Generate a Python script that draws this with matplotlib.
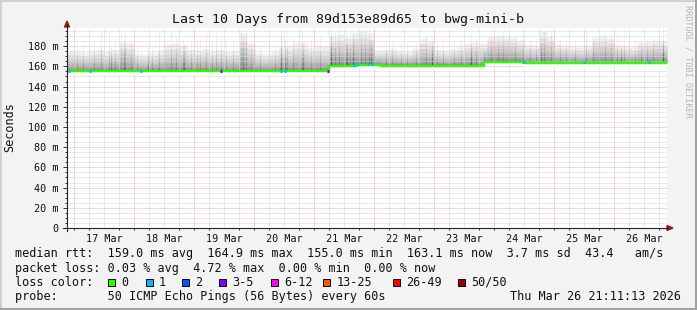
import numpy as np
import matplotlib
matplotlib.use("Agg")
import matplotlib.pyplot as plt
from matplotlib.patches import Rectangle, Polygon
from matplotlib.lines import Line2D

W, H = 697, 310
MONO = "DejaVu Sans Mono"

# time axis in days since 16 Mar 00:00
t_start = 0.8828
t_end = 10.8828
day_starts = [1, 2, 3, 4, 5, 6, 7, 8, 9, 10]
day_labels = ["17 Mar", "18 Mar", "19 Mar", "20 Mar", "21 Mar",
              "22 Mar", "23 Mar", "24 Mar", "25 Mar", "26 Mar"]

# median rtt (ms), step changes
median_t = [0.8828, 5.245, 5.72, 6.12, 7.833, 8.48, 10.8828]
median_v = [155.3, 160.8, 161.8, 160.6, 164.6, 163.6]

# upper edge of the smoke, one value per 3 hour bin (ms)
bin_days = 0.125
smoke_top = [
    176, 175, 174, 176, 177, 175, 177, 184, 183, 173,
    172, 174, 176, 182, 183, 181, 177, 176, 178, 176,
    177, 175, 176, 193, 183, 174, 173, 175, 178, 180,
    184, 183, 179, 181, 180, 190, 192, 188, 194, 195,
    193, 176, 177, 178, 176, 175, 178, 188, 186, 177,
    176, 178, 180, 183, 184, 183, 190, 191, 190, 189,
    186, 182, 181, 195, 190, 182, 181, 180, 179, 181,
    189, 190, 188, 181, 180, 179, 184, 185, 186, 185,
]

# single tall pings
spike_t = [1.05, 1.15, 1.25, 1.33, 1.45, 1.583, 1.68, 1.783, 1.85, 1.95,
           2.05, 2.3, 2.417, 2.5, 2.617, 2.7, 2.817, 2.95, 3.05, 3.1,
           3.2, 3.3, 3.367, 3.45, 3.533, 3.65, 3.783, 3.867, 3.95, 4.1,
           4.25, 4.35, 4.45, 4.55, 4.65, 4.8, 4.95, 5.1, 5.283, 5.35,
           5.417, 5.533, 5.6, 5.783, 5.85, 5.917, 6.2, 6.3, 6.45, 6.55,
           6.7, 6.867, 6.967, 7.05, 7.15, 7.333, 7.45, 7.617, 7.7, 7.95,
           8.067, 8.15, 8.25, 8.35, 8.483, 8.6, 8.7, 8.833, 8.95, 9.1,
           9.2, 9.35, 9.5, 9.533, 9.65, 9.75, 9.85, 9.95, 10.05, 10.167,
           10.25, 10.35, 10.45, 10.55, 10.65, 10.75, 10.817]
spike_v = [182, 185, 180, 186, 195, 194, 188, 195, 193, 184,
           181, 180, 196, 185, 195, 190, 186, 186, 184, 188,
           193, 185, 197, 190, 188, 186, 197, 198, 185, 182,
           184, 180, 198, 197, 188, 194, 187, 190, 197, 195,
           198, 197, 196, 198, 194, 197, 185, 184, 183, 182,
           185, 190, 189, 184, 188, 186, 186, 193, 189, 193,
           190, 194, 192, 190, 193, 186, 188, 195, 194, 187,
           185, 186, 197, 196, 188, 186, 192, 193, 192, 193,
           192, 186, 188, 187, 190, 197, 198]

# dense dark streaks
streak_t = [1.617, 1.833, 2.233, 2.833, 3.817, 4.45, 4.517, 4.817, 5.283,
            5.55, 5.65, 5.95, 6.967, 7.617, 7.833, 8.783, 10.117, 10.817]
streak_v = [180, 185, 178, 182, 188, 190, 186, 184, 190,
            188, 192, 186, 180, 182, 176, 183, 178, 188]

# packet loss events (day, lost pings)
loss_t = [0.917, 1.267, 2.117, 3.45, 4.45, 4.517, 5.233, 5.667, 5.733,
          5.9, 5.967, 8.5, 9.5, 10.583]
loss_n = [1, 1, 1, 3, 1, 1, 3, 1, 1, 1, 1, 1, 1, 1]

loss_labels = ["0", "1", "2", "3-5", "6-12", "13-25", "26-49", "50/50"]
loss_colors = ["#26ff00", "#00b8ff", "#0059ff", "#7e00ff",
               "#ff00ff", "#ff5500", "#ff0000", "#a10000"]
loss_upper = [0, 1, 2, 5, 12, 25, 49, 50]

y_ticks = [0, 20, 40, 60, 80, 100, 120, 140, 160, 180]
y_labels = ["0"] + [f"{v} m" for v in y_ticks[1:]]

title = "Last 10 Days from 89d153e89d65 to bwg-mini-b"
line_rtt = "median rtt:  159.0 ms avg  164.9 ms max  155.0 ms min  163.1 ms now  3.7 ms sd  43.4   am/s"
line_loss = "packet loss: 0.03 % avg  4.72 % max  0.00 % min  0.00 % now"
line_probe = "probe:       50 ICMP Echo Pings (56 Bytes) every 60s"
stamp = "Thu Mar 26 21:11:13 2026"


def fx(x):
    return x / W


def fy(y):
    return 1 - y / H


def median_at(t):
    idx = np.searchsorted(median_t, t, side="right") - 1
    idx = np.clip(idx, 0, len(median_v) - 1)
    return np.asarray(median_v)[idx]


def top_at(t):
    idx = np.floor((np.asarray(t) - t_start) / bin_days).astype(int)
    idx = np.clip(idx, 0, len(smoke_top) - 1)
    return np.asarray(smoke_top, dtype=float)[idx]


def loss_color(n):
    for up, c in zip(loss_upper, loss_colors):
        if n <= up:
            return c
    return loss_colors[-1]


fig = plt.figure(figsize=(W / 100, H / 100), dpi=100)
fig.patch.set_facecolor("#f3f3f3")

ax = fig.add_axes([fx(67), fy(228), 600 / W, 200 / H])
ax.set_facecolor("white")
ax.set_xlim(t_start, t_end)
ax.set_ylim(0, 198)
for s in ax.spines.values():
    s.set_visible(False)

# dotted grid
dot = (0, (1, 1))
px = 0.72
for q in np.arange(1, 11, 0.25):
    if q % 1 != 0:
        ax.axvline(q, color="#d4d4d4", lw=px, ls=dot, zorder=3)
for q in range(5, 198, 5):
    if q % 20 != 0:
        ax.axhline(q, color="#d4d4d4", lw=px, ls=dot, zorder=3)
for q in day_starts:
    ax.axvline(q, color="#eeaeae", lw=px, ls=dot, zorder=3.1)
for q in y_ticks[1:]:
    ax.axhline(q, color="#eeaeae", lw=px, ls=dot, zorder=3.1)

# smoke
tt = np.linspace(t_start, t_end, 1201)
med = median_at(tt)
top = top_at(tt)
fracs = [1.0, 0.8, 0.62, 0.48, 0.37, 0.28, 0.2, 0.14, 0.09, 0.05, 0.025]
for f in fracs:
    ax.fill_between(tt, med, med + f * (top - med), step="post",
                    color="black", alpha=0.06, lw=0, zorder=2)
ax.fill_between(tt, med - 3.5, med, step="post", color="white", lw=0, zorder=3.5)

for t, v in zip(spike_t, spike_v):
    m = median_at(t)
    for f in [1.0, 0.55, 0.3]:
        ax.vlines(t, m, m + f * (v - m), color="black", alpha=0.06, lw=px, zorder=2)
for t, v in zip(streak_t, streak_v):
    m = median_at(t)
    for f in [1.0, 0.7, 0.45, 0.25, 0.1]:
        ax.vlines(t, m, m + f * (v - m), color="black", alpha=0.08, lw=px * 1.3, zorder=2)

# median line with loss colour
ax.plot(median_t, median_v + [median_v[-1]], drawstyle="steps-post",
        color=loss_colors[0], lw=1.7, solid_capstyle="butt", zorder=4)
half = 1.0 / 60
for t, n in zip(loss_t, loss_n):
    m = median_at(t)
    ax.plot([t - half, t + half], [m + 0.5, m + 0.5], color=loss_color(n),
            lw=2.2, solid_capstyle="butt", zorder=5)

# ticks
ax.set_yticks(y_ticks)
ax.set_yticklabels(y_labels)
ax.set_yticks(np.arange(5, 198, 5), minor=True)
ax.set_xticks([d + 0.5 for d in day_starts])
ax.set_xticklabels(day_labels)
ax.set_xticks(np.arange(1, 11, 0.25), minor=True)
ax.tick_params(axis="y", which="major", length=3, width=0.7, pad=3, color="#333333",
               labelsize=7.3, labelcolor="#111111")
ax.tick_params(axis="y", which="minor", length=1.5, width=0.7, color="#333333")
ax.tick_params(axis="x", which="major", length=0, pad=4.0, labelsize=7.3,
               labelcolor="#111111")
ax.tick_params(axis="x", which="minor", length=1.5, width=0.7, color="#333333")
for lab in ax.get_xticklabels() + ax.get_yticklabels():
    lab.set_fontfamily(MONO)

# axes lines and arrows
fig.add_artist(Line2D([fx(67), fx(67)], [fy(231), fy(24)], color="#222222", lw=0.8))
fig.add_artist(Line2D([fx(63), fx(669)], [fy(228), fy(228)], color="#222222", lw=0.8))
fig.add_artist(Polygon([(fx(64.5), fy(27)), (fx(69.5), fy(27)), (fx(67), fy(21))],
                       closed=True, color="#9b1c1c", transform=fig.transFigure))
fig.add_artist(Polygon([(fx(667), fy(225.5)), (fx(667), fy(230.5)), (fx(673), fy(228))],
                       closed=True, color="#9b1c1c", transform=fig.transFigure))

# frame
fig.add_artist(Line2D([0, 1], [fy(0.5), fy(0.5)], color="#d0d0d0", lw=1.4))
fig.add_artist(Line2D([fx(0.5), fx(0.5)], [0, 1], color="#d0d0d0", lw=1.4))
fig.add_artist(Line2D([0, 1], [fy(309), fy(309)], color="#a0a0a0", lw=1.4))
fig.add_artist(Line2D([fx(696), fx(696)], [0, 1], color="#a0a0a0", lw=1.4))

# texts
fig.text(fx(348), fy(19), title, ha="center", va="center", fontsize=9.5,
         family=MONO, color="#111111")
fig.text(fx(10), fy(127), "Seconds", ha="center", va="center", rotation=90,
         fontsize=8.5, family=MONO, color="#111111")
fig.text(fx(688), fy(5), "RRDTOOL / TOBI OETIKER", ha="center", va="top",
         rotation=270, fontsize=6.1, family=MONO, color="#b4b4b4")

fig.text(fx(15), fy(254), line_rtt, ha="left", va="center", fontsize=8.5,
         family=MONO, color="#111111")
fig.text(fx(15), fy(268.3), line_loss, ha="left", va="center", fontsize=8.5,
         family=MONO, color="#111111")
fig.text(fx(15), fy(282.3), "loss color:", ha="left", va="center", fontsize=8.5,
         family=MONO, color="#111111")
fig.text(fx(15), fy(296.7), line_probe, ha="left", va="center", fontsize=8.5,
         family=MONO, color="#111111")
fig.text(fx(681), fy(296.7), stamp, ha="right", va="center", fontsize=8.5,
         family=MONO, color="#111111")

box_x = [108, 145.5, 182, 219, 270.7, 323, 393, 458]
for bx, lab, col in zip(box_x, loss_labels, loss_colors):
    fig.add_artist(Rectangle((fx(bx), fy(285.5)), 7 / W, 7 / H, facecolor=col,
                             edgecolor="black", lw=0.7, transform=fig.transFigure))
    fig.text(fx(bx + 13.5), fy(282.3), lab, ha="left", va="center", fontsize=8.5,
             family=MONO, color="#111111")

fig.savefig("out.png", dpi=100, facecolor=fig.get_facecolor())
